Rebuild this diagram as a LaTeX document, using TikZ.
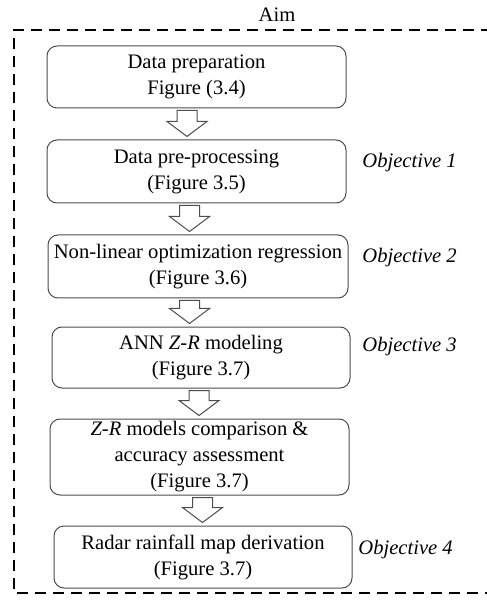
\documentclass[tikz,border=0pt]{standalone}
\usepackage{fontspec}
\setmainfont{Liberation Serif}
\usetikzlibrary{calc}

\newcommand{\flowarrow}[3]{%
  \draw[hollow] let \p1=(#1.south), \p2=(#2.north) in
    (#3-5pt,\y1-1pt) -- (#3+5pt,\y1-1pt) -- (#3+5pt,\y2+9pt) -- (#3+10pt,\y2+9pt)
    -- (#3,\y2+1.5pt) -- (#3-10pt,\y2+9pt) -- (#3-5pt,\y2+9pt) -- cycle;
}

\begin{document}
\begin{tikzpicture}[
    font=\fontsize{10.3}{13}\selectfont,
    stepbox/.style={draw=black!70, line width=0.5pt, rounded corners=5pt, align=center, inner sep=0pt},
    hollow/.style={draw=black!70, line width=0.5pt, fill=white},
    objective/.style={anchor=west, inner sep=0pt, font=\fontsize{10.3}{13}\selectfont\itshape}
  ]
  \useasboundingbox (0pt,0pt) rectangle (243pt,-301.5pt);
  \draw[line width=1.25pt, dash pattern=on 5.5pt off 3.5pt]
    (246pt,-15pt) -- (7pt,-15pt) -- (7pt,-296.5pt) -- (246pt,-296.5pt);
  \node (aim) at (138.5pt,-7.5pt) {Aim};

  \node[stepbox, minimum width=149.5pt, minimum height=31pt] (prep) at (98.25pt,-38.5pt) {Data preparation\\Figure (3.4)};
  \node[stepbox, minimum width=149.5pt, minimum height=31.5pt] (preproc) at (98.25pt,-85.75pt) {Data pre-processing\\(Figure 3.5)};
  \node[stepbox, minimum width=150pt, minimum height=31.5pt] (nlreg) at (99pt,-133.25pt) {Non-linear optimization regression\\(Figure 3.6)};
  \node[stepbox, minimum width=149pt, minimum height=30.5pt] (ann) at (100.5pt,-178.75pt) {ANN \textit{Z-R} modeling\\(Figure 3.7)};
  \node[stepbox, minimum width=149.5pt, minimum height=38pt] (compare) at (99.75pt,-228.5pt) {\textit{Z-R} models comparison \&\\accuracy assessment\\(Figure 3.7)};
  \node[stepbox, minimum width=149pt, minimum height=31pt] (radar) at (101.5pt,-278.5pt) {Radar rainfall map derivation\\(Figure 3.7)};

  \node[objective] (obj1) at (181pt,-81.5pt) {Objective 1};
  \node[objective] (obj2) at (181pt,-129pt) {Objective 2};
  \node[objective] (obj3) at (181pt,-173.5pt) {Objective 3};
  \node[objective] (obj4) at (179pt,-275pt) {Objective 4};

  \flowarrow{prep}{preproc}{93.5pt}
  \flowarrow{preproc}{nlreg}{94.75pt}
  \flowarrow{nlreg}{ann}{94.75pt}
  \flowarrow{ann}{compare}{99.5pt}
  \flowarrow{compare}{radar}{101.25pt}
\end{tikzpicture}
\end{document}
